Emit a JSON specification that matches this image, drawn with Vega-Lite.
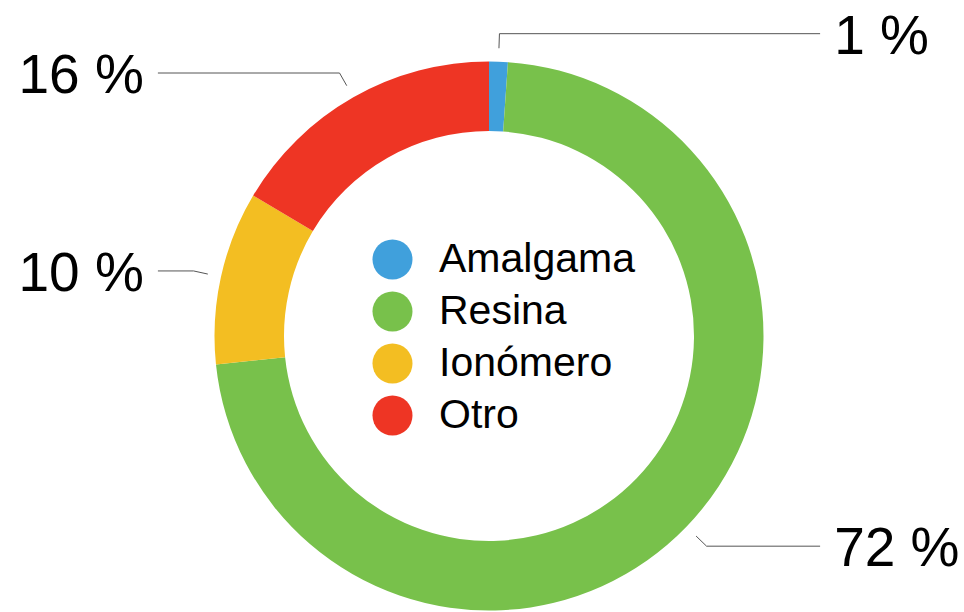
{
  "$schema": "https://vega.github.io/schema/vega-lite/v6.json",
  "width": 550,
  "height": 550,
  "autosize": {"type": "none"},
  "padding": {"left": 214, "top": 61, "right": 200, "bottom": 1},
  "background": "white",
  "config": {"view": {"stroke": null}, "font": "Liberation Sans"},
  "data": {
    "values": [
      {"categoria": "Amalgama", "valor": 1.1},
      {"categoria": "Resina", "valor": 72.25},
      {"categoria": "Ionómero", "valor": 10.2},
      {"categoria": "Otro", "valor": 16.45}
    ]
  },
  "transform": [
    {"window": [{"op": "row_number", "as": "orden"}]},
    {"window": [{"op": "sum", "field": "valor", "as": "acumulado"}], "sort": [{"field": "orden"}], "frame": [null, 0]},
    {"joinaggregate": [{"op": "sum", "field": "valor", "as": "total"}]},
    {"calculate": "2 * PI * (datum.acumulado - datum.valor / 2) / datum.total", "as": "angulo"},
    {"calculate": "sin(datum.angulo) >= 0 ? 1 : -1", "as": "lado"},
    {"calculate": "1.047 * sin(datum.angulo)", "as": "xa"},
    {"calculate": "1.047 * cos(datum.angulo)", "as": "ya"},
    {"calculate": "1.1 * sin(datum.angulo)", "as": "xb"},
    {"calculate": "1.1 * cos(datum.angulo)", "as": "yb"},
    {"calculate": "1.204 * datum.lado", "as": "xc"},
    {"calculate": "1.255 * datum.lado", "as": "xt"},
    {"calculate": "format(100 * datum.valor / datum.total, '.0f') + ' %'", "as": "etiqueta"}
  ],
  "layer": [
    {
      "mark": {"type": "arc", "outerRadius": 274.5, "innerRadius": 205},
      "encoding": {
        "theta": {"field": "valor", "type": "quantitative", "stack": true},
        "order": {"field": "orden", "type": "quantitative"},
        "color": {
          "field": "categoria",
          "type": "nominal",
          "sort": ["Amalgama", "Resina", "Ionómero", "Otro"],
          "scale": {
            "domain": ["Amalgama", "Resina", "Ionómero", "Otro"],
            "range": ["#40A0DC", "#78C14B", "#F3BE22", "#EE3524"]
          },
          "legend": {
            "orient": "none",
            "legendX": 158,
            "legendY": 178,
            "title": null,
            "symbolType": "circle",
            "symbolSize": 1600,
            "symbolStrokeWidth": 0,
            "symbolOpacity": 1,
            "labelFontSize": 41,
            "labelFont": "Liberation Sans",
            "labelColor": "black",
            "labelOffset": 26,
            "labelLimit": 400,
            "rowPadding": 10,
            "padding": 0
          }
        }
      }
    },
    {
      "mark": {"type": "rule", "color": "#555555", "strokeWidth": 1},
      "encoding": {
        "x": {"field": "xa", "type": "quantitative", "scale": {"domain": [-1, 1], "nice": false, "zero": false}, "axis": null},
        "y": {"field": "ya", "type": "quantitative", "scale": {"domain": [-1, 1], "nice": false, "zero": false}, "axis": null},
        "x2": {"field": "xb"},
        "y2": {"field": "yb"}
      }
    },
    {
      "mark": {"type": "rule", "color": "#555555", "strokeWidth": 1},
      "encoding": {
        "x": {"field": "xb", "type": "quantitative"},
        "y": {"field": "yb", "type": "quantitative"},
        "x2": {"field": "xc"}
      }
    },
    {
      "transform": [{"filter": "datum.lado > 0"}],
      "mark": {"type": "text", "align": "left", "baseline": "middle", "dy": 3, "fontSize": 55, "font": "Liberation Sans", "color": "black"},
      "encoding": {
        "x": {"field": "xt", "type": "quantitative"},
        "y": {"field": "yb", "type": "quantitative"},
        "text": {"field": "etiqueta", "type": "nominal"}
      }
    },
    {
      "transform": [{"filter": "datum.lado < 0"}],
      "mark": {"type": "text", "align": "right", "baseline": "middle", "dy": 3, "fontSize": 55, "font": "Liberation Sans", "color": "black"},
      "encoding": {
        "x": {"field": "xt", "type": "quantitative"},
        "y": {"field": "yb", "type": "quantitative"},
        "text": {"field": "etiqueta", "type": "nominal"}
      }
    }
  ]
}
